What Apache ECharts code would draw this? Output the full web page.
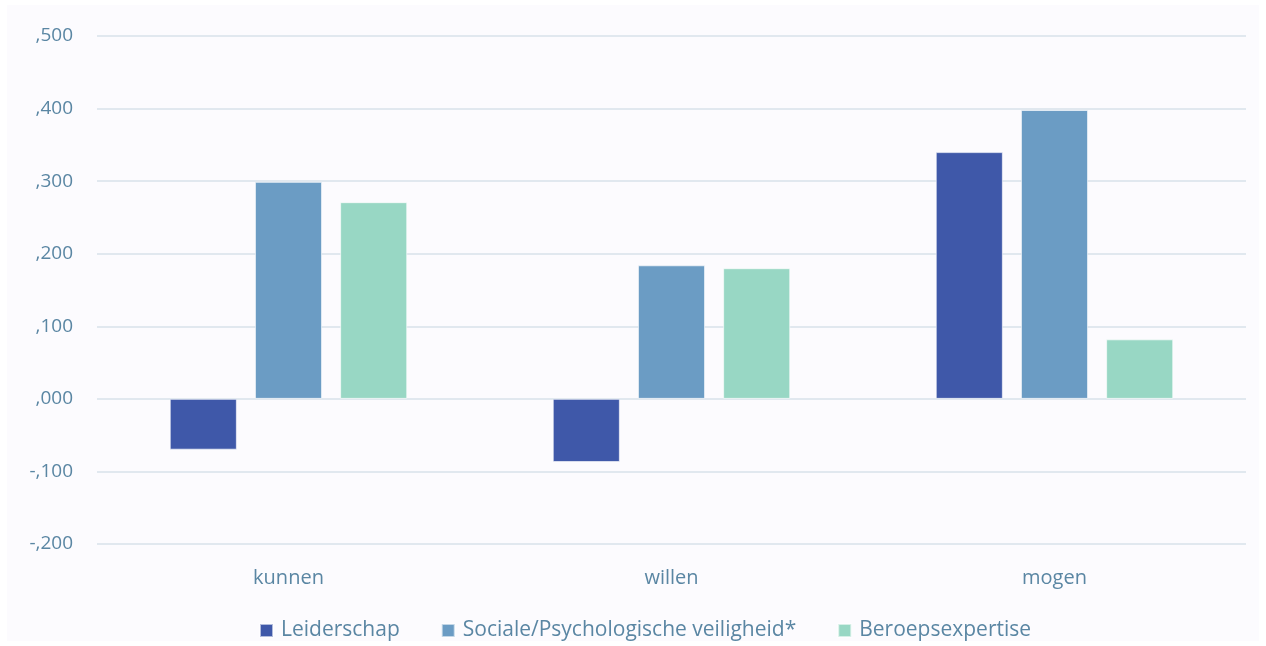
<!DOCTYPE html>
<html>
<head>
<meta charset="utf-8">
<script src="https://cdn.jsdelivr.net/npm/echarts@6/dist/echarts.min.js"></script>
<style>
  html, body { margin: 0; padding: 0; background: #ffffff; }
  #chart { width: 1266px; height: 646px; }
</style>
</head>
<body>
<div id="chart"></div>
<script>
// Categories and series values
const categories = ['kunnen', 'willen', 'mogen'];
const leiderschap = [-0.070, -0.087, 0.340];
const socialeVeiligheid = [0.299, 0.184, 0.398];
const beroepsexpertise = [0.271, 0.180, 0.082];
const seriesNames = ['Leiderschap', 'Sociale/Psychologische veiligheid*', 'Beroepsexpertise'];
const seriesColors = ['#3f58a9', '#6b9cc4', '#98d7c4'];

const textColor = '#5a86a3';
const fontFamily = '"Open Sans", Lato, sans-serif';

// ",500" style labels: comma decimal separator, three decimals, no leading zero
function fmt(v) {
  const s = Math.abs(v).toFixed(3).replace(/^0/, '').replace('.', ',');
  return (v < -1e-9 ? '-' : '') + s;
}

const chart = echarts.init(document.getElementById('chart'), null, { renderer: 'canvas' });

const values = [leiderschap, socialeVeiligheid, beroepsexpertise];

chart.setOption({
  backgroundColor: '#ffffff',
  animation: false,
  graphic: [{
    type: 'rect',
    z: -10,
    shape: { x: 7, y: 5, width: 1252, height: 636 },
    style: { fill: '#fcfbfe' }
  }],
  grid: { left: 97, right: 20, top: 36, bottom: 102, containLabel: false },
  legend: {
    bottom: 0,
    left: 254,
    itemWidth: 13,
    itemHeight: 13,
    itemGap: 41,
    icon: 'rect',
    textStyle: { color: textColor, fontSize: 21, fontFamily: fontFamily, padding: [0, 0, 0, 3] },
    data: seriesNames
  },
  xAxis: {
    type: 'category',
    data: categories,
    axisLine: { show: false, onZero: false },
    axisTick: { show: false },
    axisLabel: { color: textColor, fontSize: 20, fontFamily: fontFamily, margin: 24 }
  },
  yAxis: {
    type: 'value',
    min: -0.2,
    max: 0.5,
    interval: 0.1,
    axisLine: { show: false },
    axisTick: { show: false },
    splitLine: { lineStyle: { color: '#d9e2ea', width: 1.5 } },
    axisLabel: { color: textColor, fontSize: 19, fontFamily: fontFamily, margin: 24, formatter: fmt }
  },
  series: seriesNames.map((name, i) => ({
    name: name,
    type: 'bar',
    data: values[i],
    barGap: '27%',
    barCategoryGap: '38%',
    itemStyle: { color: seriesColors[i], borderColor: 'rgba(255,255,255,0.6)', borderWidth: 1 }
  }))
});
</script>
</body>
</html>
